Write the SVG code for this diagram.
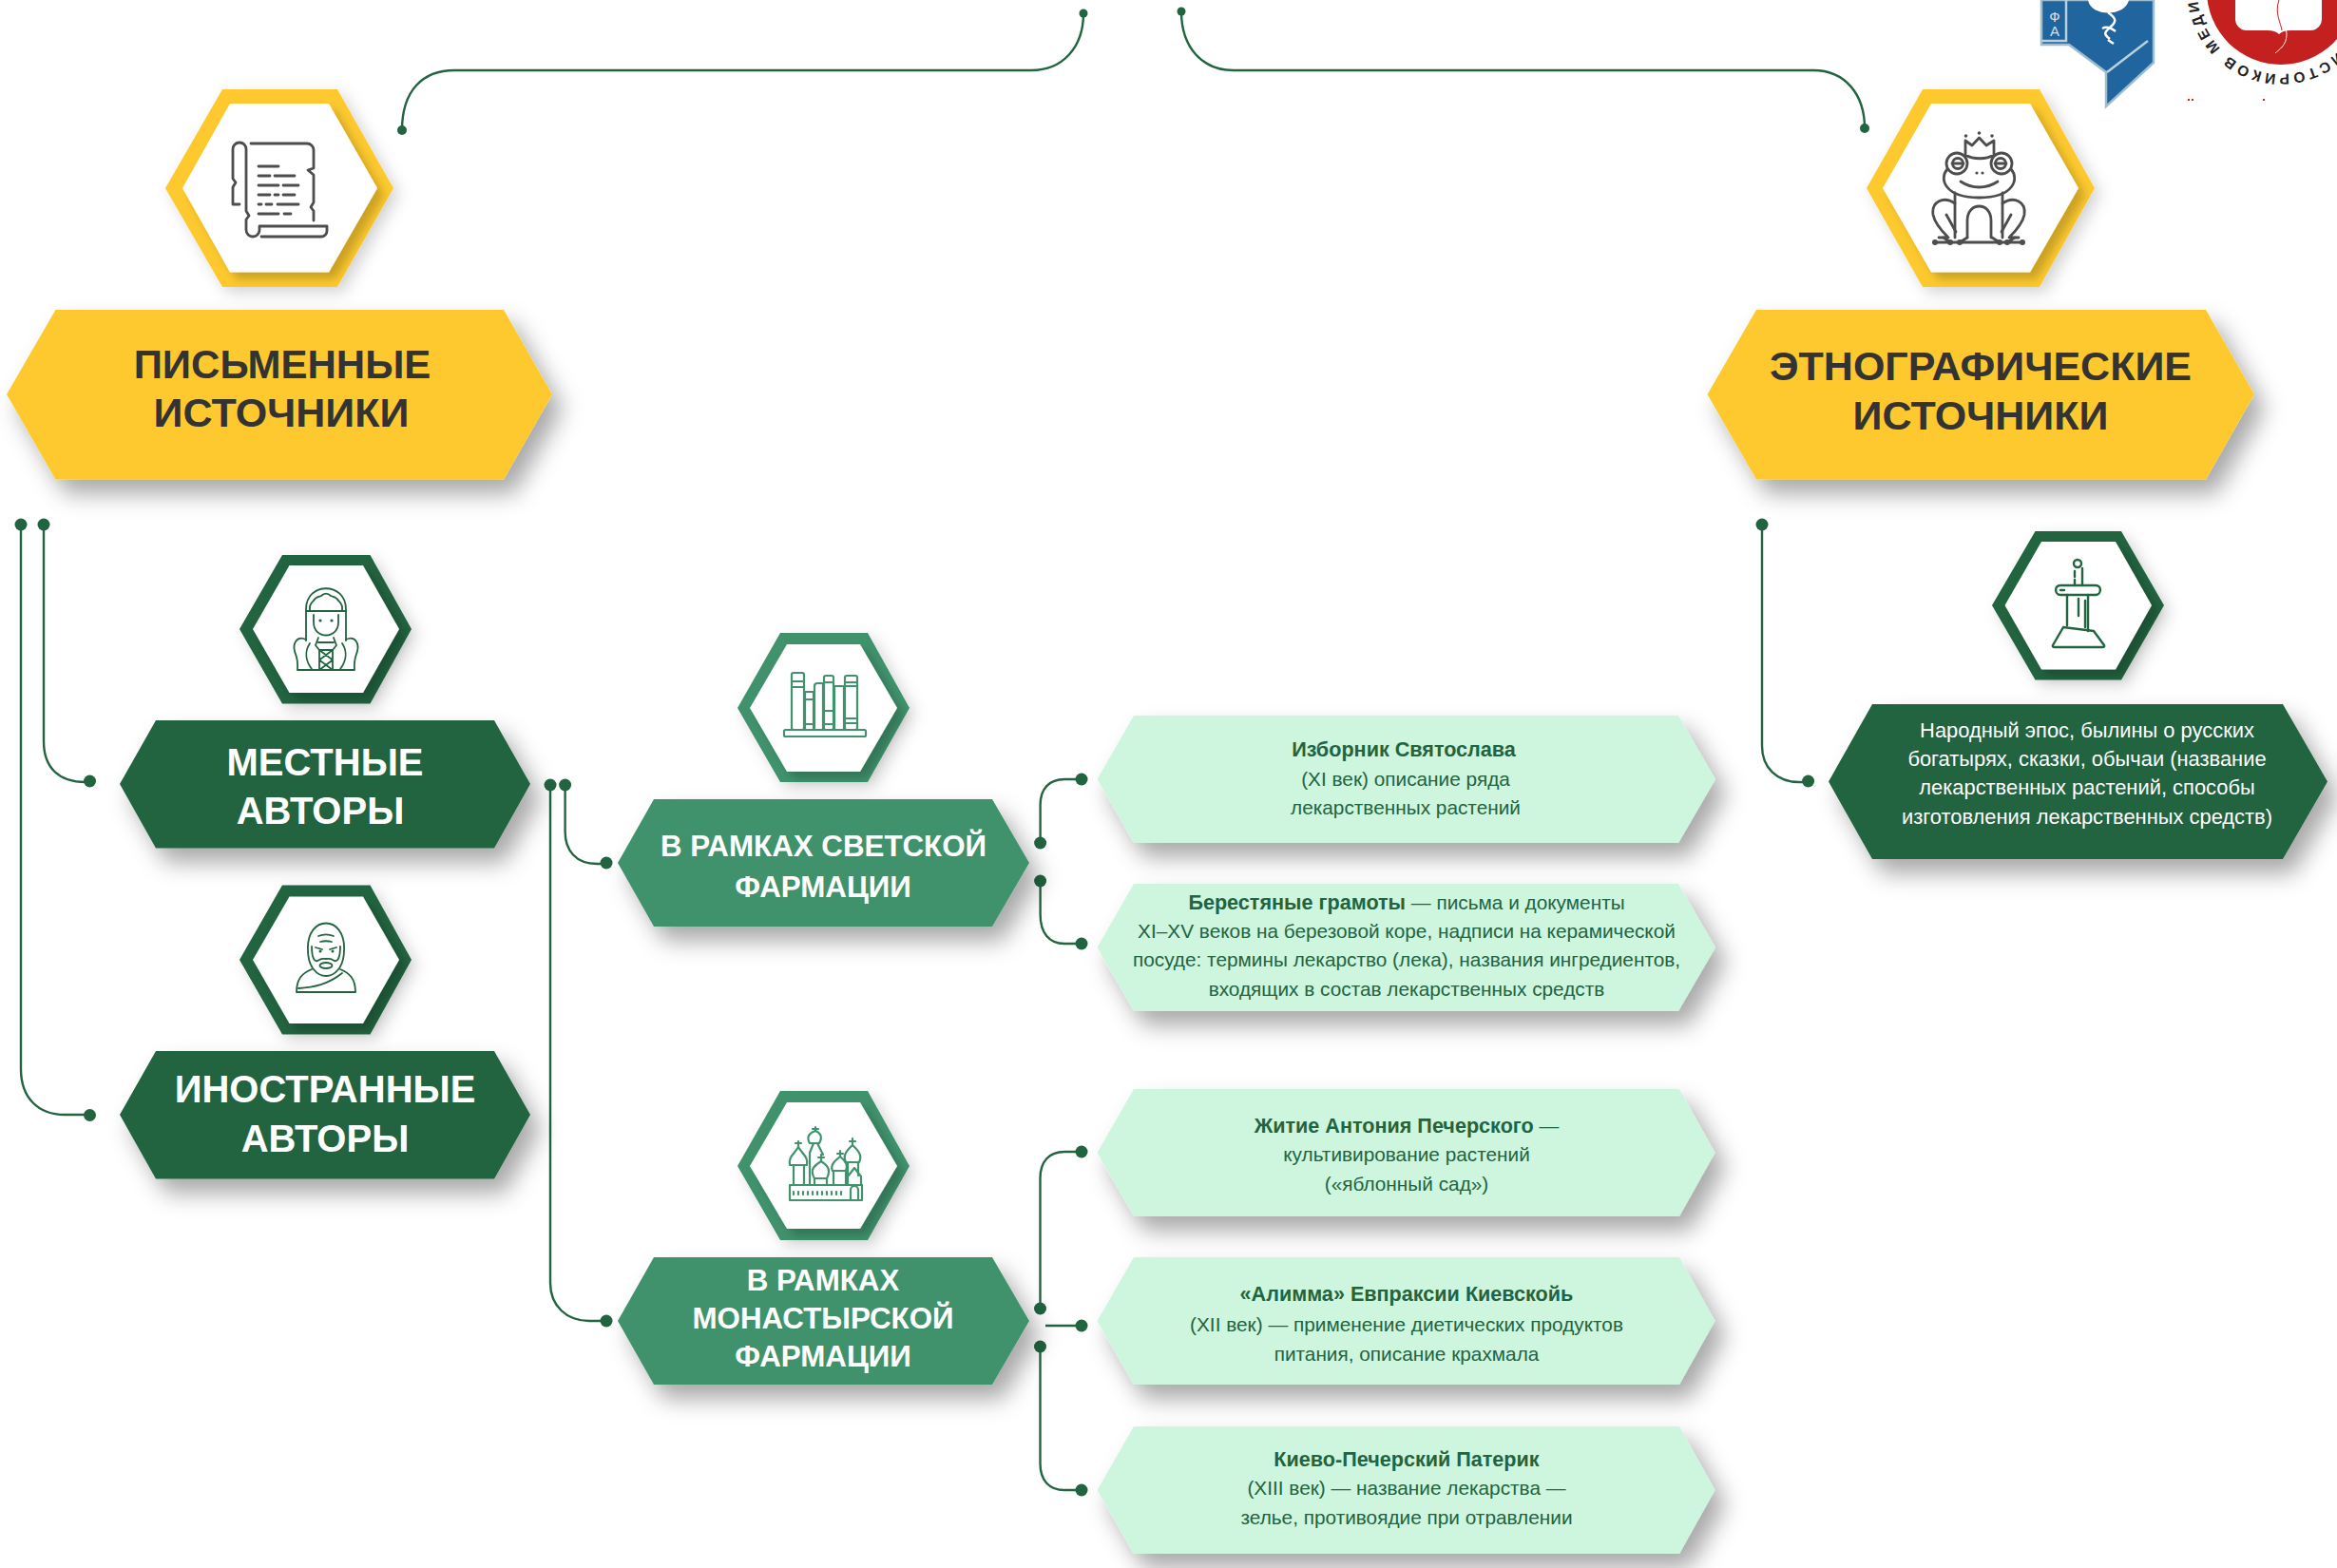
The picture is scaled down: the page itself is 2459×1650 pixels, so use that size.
<svg xmlns="http://www.w3.org/2000/svg" width="2459" height="1650" viewBox="0 0 2459 1650">
<defs>
<filter id="sh" x="-20%" y="-30%" width="150%" height="180%"><feDropShadow dx="11" dy="15" stdDeviation="12" flood-color="#000" flood-opacity=".34"/></filter>
<filter id="sh2" x="-20%" y="-20%" width="150%" height="150%"><feDropShadow dx="6" dy="6" stdDeviation="8" flood-color="#000" flood-opacity=".17"/></filter>
<filter id="in" x="-20%" y="-20%" width="150%" height="150%"><feDropShadow dx="7" dy="7" stdDeviation="5" flood-color="#000" flood-opacity=".2"/></filter>
<path id="circ2" d="M2488 -10 A88 88 0 0 1 2312 -10 A88 88 0 0 1 2400 -98"/>
</defs>
<style>
text{font-family:"Liberation Sans",Arial,sans-serif;text-anchor:middle}
.c{fill:none;stroke:#22643f;stroke-width:2.4}
.d{fill:#22643f}
.y{fill:#fdc92f}.g{fill:#22643f}.m{fill:#41926d}.l{fill:#cef5de}.w{fill:#fff}
.t1{font-size:43px;font-weight:700;fill:#333}
.t2{font-size:40px;font-weight:700;fill:#fff}
.t3{font-size:31.300px;font-weight:700;fill:#fff}
.s{font-size:20.800px;fill:#22643f}
.b{font-weight:700;font-size:21.600px}
.e{font-size:21.900px;fill:#fff}
.i1{fill:none;stroke:#4d4d4d;stroke-width:2.8;stroke-linecap:round;stroke-linejoin:round}
.i2{fill:none;stroke:#22643f;stroke-width:1.8;stroke-linecap:round;stroke-linejoin:round}
.i3{fill:none;stroke:#41926d;stroke-width:2.2;stroke-linecap:round;stroke-linejoin:round}
</style>
<rect width="2459" height="1650" fill="#fff"/>

<g id="logos">
<path d="M2148 0V47H2177L2216 76V112L2266 66V0Z" fill="#21659f" stroke="#9dbdcf" stroke-width="2.500"/>
<path d="M2174 0V43H2148M2217 76L2260 43" fill="none" stroke="#b9d0de" stroke-width="2.500"/>
<path d="M2197 0C2200 18 2236 18 2240 0Z" fill="#fff"/>
<path d="M2218 13c8 6 10 9 3 15s-8 8-1 13M2212 30c5-3 10 0 14 3M2218 42l6 4" fill="none" stroke="#fff" stroke-width="2.500"/>
<text x="2162" y="23" font-size="15" fill="#cfe0ea">Ф</text>
<text x="2162" y="38" font-size="15" fill="#cfe0ea">А</text>
<circle cx="2400" cy="-10" r="78" fill="#c4201f"/>
<path d="M2352 -10H2443V20a12 12 0 0 1-12 12H2410q-8 0-12 4q-4-4-12-4H2364a12 12 0 0 1-12-12Z" fill="#fff"/>
<path d="M2398 0c-5 14 8 24 8 36s-8 16-12 20" fill="none" stroke="#fff" stroke-width="1"/>
<path d="M2398 0c-5 14 2 24 3 32" fill="none" stroke="#c4201f" stroke-width="1"/>
<text font-size="15.500" font-weight="700" fill="#222" letter-spacing="3.500" style="text-anchor:start"><textPath href="#circ2" startOffset="72">ИСТОРИКОВ МЕДИЦ</textPath></text>
<path d="M2302 104h2v2h-2zM2306 104h2v2h-2zM2381 104h2v2h-2z" fill="#d22"/>
</g>

<g id="connectors">
<path class="c" d="M423 137C423 95 445 74 478 74H1085C1118 74 1140 50 1140 14"/>
<circle class="d" cx="423" cy="137" r="5"/><circle class="d" cx="1140" cy="14" r="4.500"/>
<path class="c" d="M1243 12C1243 50 1265 74 1298 74H1908C1942 74 1962 100 1962 135"/>
<circle class="d" cx="1243" cy="12" r="4.500"/><circle class="d" cx="1962" cy="135" r="5"/>
<path class="c" d="M22 552V1125C22 1155 40 1173 68 1173H94"/>
<path class="c" d="M46 552V780C46 808 62 823 90 823H94"/>
<circle class="d" cx="22" cy="552" r="6.500"/><circle class="d" cx="46" cy="552" r="6.500"/>
<circle class="d" cx="94.500" cy="822" r="6.500"/><circle class="d" cx="94.500" cy="1173.500" r="6.500"/>
<path class="c" d="M579 826V1350C579 1374 596 1390 620 1390H638"/>
<path class="c" d="M594.600 826V875C594.600 895 606 909 628 909H638"/>
<circle class="d" cx="579" cy="826" r="6.500"/><circle class="d" cx="594.600" cy="826" r="6.500"/>
<circle class="d" cx="638" cy="908" r="6.500"/><circle class="d" cx="638" cy="1390" r="6.500"/>
<path class="c" d="M1094.600 887V847C1094.600 830 1104 820 1120 820H1138"/>
<path class="c" d="M1094.600 927V962C1094.600 982 1104 993 1120 993H1138"/>
<circle class="d" cx="1094.600" cy="887" r="6.500"/><circle class="d" cx="1094.600" cy="927" r="6.500"/>
<circle class="d" cx="1138" cy="820" r="6.500"/><circle class="d" cx="1138" cy="993" r="6.500"/>
<path class="c" d="M1094.500 1377V1240C1094.500 1222 1104 1212 1120 1212H1138"/>
<path class="c" d="M1100 1395H1138"/>
<path class="c" d="M1094.500 1417V1540C1094.500 1558 1104 1568 1120 1568H1138"/>
<circle class="d" cx="1094.500" cy="1377" r="6.500"/><circle class="d" cx="1094.500" cy="1417" r="6.500"/>
<circle class="d" cx="1138" cy="1212" r="6.500"/><circle class="d" cx="1138" cy="1395" r="6.500"/><circle class="d" cx="1138" cy="1568" r="6.500"/>
<path class="c" d="M1854 552V785C1854 808 1870 823 1893 823H1902"/>
<circle class="d" cx="1854" cy="552" r="6.500"/><circle class="d" cx="1902.600" cy="822" r="6.500"/>
</g>

<g id="node-written-icon">
<polygon class="y" filter="url(#sh2)" points="174,198 234,94 355,94 414,198 355,302 234,302"/>
<polygon class="w" filter="url(#in)" points="192,198 242,109 346,109 397,198 346,286.500 242,286.500"/>
<path class="i1" d="M252 215H245V197L248 192L245 188V157A7 7 0 0 1 259 157V222L262 227L259 231V242A7 7 0 0 0 273 242V238H344V243A6 6 0 0 1 338 249H275"/>
<path class="i1" d="M264 151H323A7 7 0 0 1 330 158V177L324 179L330 184V213L327 218L330 222V232"/>
<path class="i1" d="M272 175H293M272 185H284M289 185H310M272 195H293M298 195H314M272 205H284M289 205H293M298 205H310M272 215H275M280 215H286M292 215H314M272 225H293M299 225H306"/>
</g>
<g id="node-written">
<polygon class="y" filter="url(#sh)" points="7,415 58.500,326 530,326 581,415 530,504.500 58.500,504.500"/>
<text class="t1" x="297" y="398" font-size="42" style="font-size:42px">ПИСЬМЕННЫЕ</text>
<text class="t1" x="296" y="449">ИСТОЧНИКИ</text>
</g>

<g id="node-ethno-icon">
<polygon class="y" filter="url(#sh2)" points="1964,198 2023,94 2146,94 2204,198 2146,302 2023,302"/>
<polygon class="w" filter="url(#in)" points="1981,198 2032,109 2136,109 2187,198 2136,286.500 2032,286.500"/>
<g class="i1">
<path d="M2068 148L2075 153L2082.500 145L2090 153L2098 148V163C2090 168 2076 168 2068 163Z"/>
<circle cx="2059" cy="172" r="11"/><circle cx="2106" cy="172" r="11"/>
<circle cx="2060" cy="172" r="5.500"/><circle cx="2105" cy="172" r="5.500"/>
<path d="M2054 172H2066M2099 172H2111"/>
<path d="M2049 178C2040 188 2046 208 2082.500 208C2119 208 2125 188 2116 178"/>
<path d="M2063 191C2075 199 2090 199 2102 191"/>
<path d="M2057 203V250M2107 203V250"/>
<path d="M2070 250V232C2070 212 2095 212 2095 232V250"/>
<path d="M2057 214C2045 206 2032 212 2034 226C2036 236 2046 246 2050 250H2040M2048 226L2058 244"/>
<path d="M2107 214C2119 206 2132 212 2130 226C2128 236 2118 246 2114 250H2124M2116 226L2106 244"/>
<path d="M2036 255H2128M2045 250L2052 255M2070 250L2062 255M2096 250L2104 255M2120 250L2112 255"/>
</g>
<g fill="#4d4d4d"><circle cx="2068.500" cy="143" r="1.800"/><circle cx="2082.500" cy="140" r="1.800"/><circle cx="2096" cy="143" r="1.800"/><circle cx="2080" cy="182" r="1.600"/><circle cx="2086" cy="182" r="1.600"/><circle cx="2036" cy="255" r="3"/><circle cx="2128" cy="255" r="3"/><circle cx="2052" cy="255" r="3"/><circle cx="2062" cy="255" r="3"/><circle cx="2104" cy="255" r="3"/><circle cx="2112" cy="255" r="3"/></g>
</g>
<g id="node-ethno">
<polygon class="y" filter="url(#sh)" points="1796.500,415 1848,326 2321,326 2372,415 2321,504.500 1848,504.500"/>
<text class="t1" x="2084" y="400">ЭТНОГРАФИЧЕСКИЕ</text>
<text class="t1" x="2084" y="452">ИСТОЧНИКИ</text>
</g>

<g id="node-local-icon">
<polygon class="g" filter="url(#sh2)" points="252,662 297,584 389.500,584 433,662 389.500,740.500 297,740.500"/>
<polygon class="w" filter="url(#in)" points="266,662 304.500,595 382,595 420,662 382,729 304.500,729"/>
<g class="i2">
<path d="M322 674V641C322 612 364 612 364 641V674"/>
<path d="M326 642C325 636 328 634 330 632C332 628 336 628 338 627C341 624 345 624 348 627C350 628 354 628 356 632C358 634 361 636 360 642"/>
<path d="M322 643H364M330 647V655C330 673 356 673 356 655V647"/>
<path d="M322 673C312 668 308 678 310 685C311 690 314 692 313 705H373C372 692 375 690 376 685C378 678 374 668 364 673"/>
<path d="M326 677C320 686 322 696 328 704M360 677C366 686 364 696 358 704"/>
<path d="M335 671L332 679L336 684M351 671L354 679L350 684M335 676H351"/>
<path d="M336 684H350V705H336ZM336 684L350 694.500M350 684L336 694.500M336 694.500L350 705M350 694.500L336 705"/>
</g>
<circle class="d" cx="337" cy="653" r="1.600"/><circle class="d" cx="349" cy="653" r="1.600"/>
</g>
<g id="node-local">
<polygon class="g" filter="url(#sh)" points="126,825 164,758 520,758 558,825 520,892.500 164,892.500"/>
<text class="t2" x="342" y="815.500">МЕСТНЫЕ</text>
<text class="t2" x="337" y="867">АВТОРЫ</text>
</g>

<g id="node-foreign-icon">
<polygon class="g" filter="url(#sh2)" points="252,1010 297,931.500 389.500,931.500 433,1010 389.500,1088.500 297,1088.500"/>
<polygon class="w" filter="url(#in)" points="266,1010 304.500,943.500 382,943.500 420,1010 382,1077 304.500,1077"/>
<g class="i2">
<path d="M324 1000C322 962 364 962 362 1000C362 1018 352 1027 343 1027C334 1027 324 1018 324 1000Z"/>
<path d="M335 985C340 983 346 983 351 985M337 991C341 990 345 990 349 991M332 997L339 999M354 997L347 999"/>
<path d="M328 996C328 1008 331 1014 336 1010C339 1008 341 1009 343 1009C345 1009 347 1008 350 1010C355 1014 358 1008 358 996"/>
<ellipse cx="343" cy="1016" rx="6.500" ry="3"/>
<path d="M328 1020C318 1024 312 1030 312 1044H374C374 1030 368 1024 358 1020"/>
<path d="M314 1040C330 1039 345 1036 360 1024"/>
</g>
<circle class="d" cx="337" cy="1001" r="1.500"/><circle class="d" cx="350" cy="1001" r="1.500"/>
</g>
<g id="node-foreign">
<polygon class="g" filter="url(#sh)" points="126,1173 164,1106 520,1106 558,1173 520,1240.500 164,1240.500"/>
<text class="t2" x="342" y="1160">ИНОСТРАННЫЕ</text>
<text class="t2" x="342" y="1211.500">АВТОРЫ</text>
</g>

<g id="node-secular-icon">
<polygon class="m" filter="url(#sh2)" points="776,745 821,666 913,666 957,745 913,823 821,823"/>
<polygon class="w" filter="url(#in)" points="789,745 828,678 905,678 944,745 905,812 828,812"/>
<g class="i3">
<rect x="825" y="768" width="86" height="7" rx="1.500"/>
<rect x="833" y="708" width="13" height="60" rx="2"/><path d="M833 717H846M833 723H846"/>
<path d="M847 768V728H856V768M847 736H856M847 762H856"/>
<path d="M857 768V722Q857 719 860 719H866V768"/>
<rect x="867" y="711" width="10" height="57" rx="2"/><path d="M867 718H877M867 748H877M867 762H877"/>
<path d="M878 768V722H888V768"/>
<rect x="889" y="711" width="13" height="57" rx="2"/><path d="M889 718H902M889 722H902M889 756H902M889 761H902"/>
</g>
</g>
<g id="node-secular">
<polygon class="m" filter="url(#sh)" points="650,908 688,841 1044,841 1083,908 1044,975 688,975"/>
<text class="t3" x="866.500" y="900.500">В РАМКАХ СВЕТСКОЙ</text>
<text class="t3" x="866" y="944">ФАРМАЦИИ</text>
</g>

<g id="node-monastic-icon">
<polygon class="m" filter="url(#sh2)" points="776,1227 821,1148 913,1148 957,1227 913,1305 821,1305"/>
<polygon class="w" filter="url(#in)" points="789,1227 828,1160 905,1160 944,1227 905,1293 828,1293"/>
<g class="i3">
<rect x="831" y="1247" width="76" height="16"/>
<path d="M835 1247V1226M846 1247V1226M831 1226C829 1218 836 1214 840 1207C844 1214 851 1218 849 1226Z"/>
<path d="M840 1207V1201M837 1203H843"/>
<path d="M852 1247V1213L856 1203H860L866 1215"/>
<path d="M852 1203C848 1196 852 1192 858 1190C863 1192 866 1196 862 1203ZM858 1190V1186M855 1188H861"/>
<path d="M857 1247V1240M870 1247V1240M857 1240C851 1230 858 1226 864 1222C870 1226 875 1230 870 1240ZM864 1222V1215M861 1218H867"/>
<path d="M877 1247V1232M890 1247V1232M876 1232C873 1226 879 1221 884 1217C889 1221 893 1226 890 1232ZM884 1217V1211M881 1214H887"/>
<path d="M892 1237V1223M903 1237V1223M890 1223C886 1215 892 1210 897 1205C902 1210 908 1215 904 1223ZM897 1205V1198M894 1201H900"/>
<path d="M892 1247V1238L899 1229L906 1238V1247M895 1263V1252A4 4 0 0 1 903 1252V1263"/>
<path d="M835 1254V1257M840 1254V1257M845 1254V1257M850 1254V1257M855 1254V1257M860 1254V1257M865 1254V1257M870 1254V1257M875 1254V1257M880 1254V1257M885 1254V1257"/>
</g>
</g>
<g id="node-monastic">
<polygon class="m" filter="url(#sh)" points="650,1390 688,1323 1044,1323 1083,1390 1044,1457 688,1457"/>
<text class="t3" x="866" y="1358">В РАМКАХ</text>
<text class="t3" x="866" y="1398">МОНАСТЫРСКОЙ</text>
<text class="t3" x="866" y="1438">ФАРМАЦИИ</text>
</g>

<g id="node-izbornik">
<polygon class="l" filter="url(#sh)" points="1154.500,820 1193,753 1766,753 1805,820 1766,887 1193,887"/>
<text class="s b" x="1477" y="796">Изборник Святослава</text>
<text class="s" x="1479" y="826.500">(XI век) описание ряда</text>
<text class="s" x="1479" y="857">лекарственных растений</text>
</g>
<g id="node-birch">
<polygon class="l" filter="url(#sh)" points="1154.500,997 1193,930 1766,930 1805,997 1766,1064 1193,1064"/>
<text class="s" x="1480" y="956.500"><tspan class="b">Берестяные грамоты</tspan> — письма и документы</text>
<text class="s" x="1480" y="987">XI–XV веков на березовой коре, надписи на керамической</text>
<text class="s" x="1480" y="1017">посуде: термины лекарство (лека), названия ингредиентов,</text>
<text class="s" x="1480" y="1047.500">входящих в состав лекарственных средств</text>
</g>
<g id="node-antony">
<polygon class="l" filter="url(#sh)" points="1154.500,1213 1193,1146 1767,1146 1804.500,1213 1767,1280 1193,1280"/>
<text class="s" x="1480" y="1191.500"><tspan class="b">Житие Антония Печерского</tspan> —</text>
<text class="s" x="1480" y="1222">культивирование растений</text>
<text class="s" x="1480" y="1253">(«яблонный сад»)</text>
</g>
<g id="node-alimma">
<polygon class="l" filter="url(#sh)" points="1154.500,1390 1193,1323 1767,1323 1804.500,1390 1767,1457 1193,1457"/>
<text class="s b" x="1480" y="1369">«Алимма» Евпраксии Киевскойь</text>
<text class="s" x="1480" y="1400.500">(XII век) — применение диетических продуктов</text>
<text class="s" x="1480" y="1431.500">питания, описание крахмала</text>
</g>
<g id="node-paterik">
<polygon class="l" filter="url(#sh)" points="1154.500,1568 1193,1501 1767,1501 1804.500,1568 1767,1635 1193,1635"/>
<text class="s b" x="1480" y="1542.500">Киево-Печерский Патерик</text>
<text class="s" x="1480" y="1573">(XIII век) — название лекарства —</text>
<text class="s" x="1480" y="1604">зелье, противоядие при отравлении</text>
</g>

<g id="node-epos-icon">
<polygon class="g" filter="url(#sh2)" points="2096,637 2141.500,559 2232,559 2277,637 2232,715.500 2141.500,715.500"/>
<polygon class="w" filter="url(#in)" points="2109.500,637 2148,570 2226,570 2264,637 2226,704.500 2148,704.500"/>
<g class="i2" style="stroke-width:2.400">
<circle cx="2186" cy="593" r="4"/>
<path d="M2183 601V607M2183 610V616M2191 598V616"/>
<path d="M2168 616H2205C2212 616 2211 626 2205 626M2168 616C2161 616 2162 626 2168 626H2205M2168 621H2172"/>
<path d="M2175 626V658M2197 626V664M2187 630V648M2194 632V660"/>
<path d="M2171 660L2203 664L2214 679Q2215 681 2212 681H2162Q2159 681 2160 679Z"/>
</g>
</g>
<g id="node-epos">
<polygon class="g" filter="url(#sh)" points="1924,822.500 1970,741 2402,741 2449,822.500 2402,904 1970,904"/>
<text class="e" x="2196" y="776">Народный эпос, былины о русских</text>
<text class="e" x="2196" y="806">богатырях, сказки, обычаи (название</text>
<text class="e" x="2196" y="836">лекарственных растений, способы</text>
<text class="e" x="2196" y="866.500">изготовления лекарственных средств)</text>
</g>
</svg>
